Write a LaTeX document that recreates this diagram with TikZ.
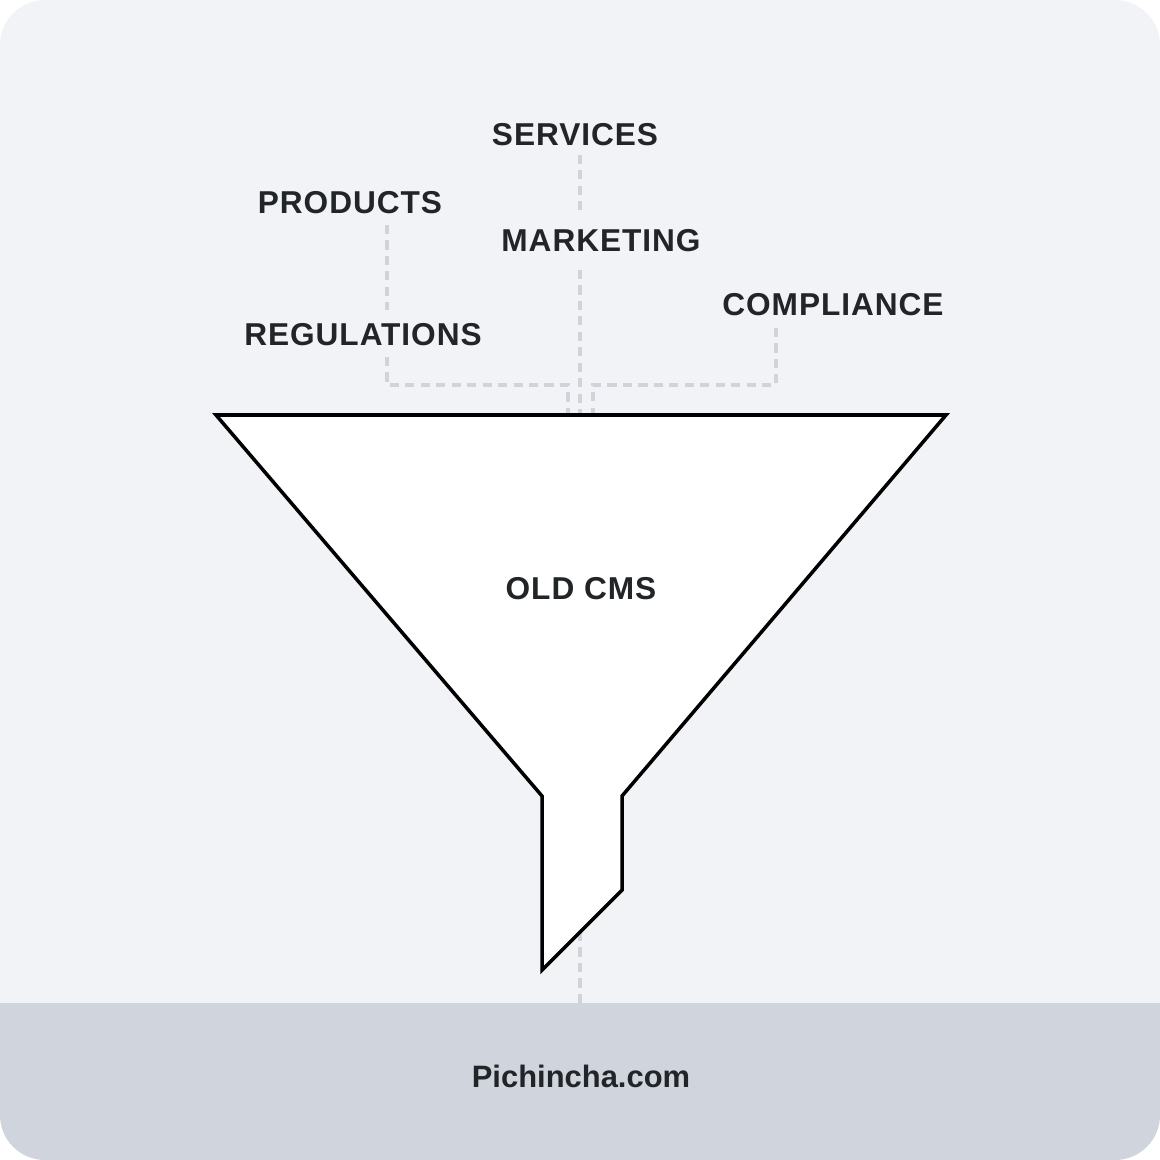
\documentclass[tikz,border=0pt]{standalone}
\usepackage{fontspec}
\setmainfont{Liberation Sans}
\newfontfamily\tagfont[LetterSpace=3]{Liberation Sans}
\usetikzlibrary{positioning,calc}
\definecolor{canvas}{HTML}{F2F3F7}
\definecolor{band}{HTML}{D0D4DC}
\definecolor{dashgray}{HTML}{D0D3DA}
\definecolor{ink}{HTML}{222527}

\begin{document}
\begin{tikzpicture}[
  x=0.1mm, y=-0.1mm,
  tag/.style={font=\tagfont\fontsize{9}{10}\selectfont\bfseries, text=ink, inner sep=0pt},
  brand/.style={font=\fontsize{8.8}{10}\selectfont\bfseries, text=ink, inner sep=0pt},
  link/.style={draw=dashgray, line width=1pt, dash pattern=on 2.6pt off 1.8pt},
  funnel/.style={draw=black, fill=white, line width=1pt, line join=miter}
]
% canvas and footer band
\fill[white] (0,0) rectangle (1160,1160);
\begin{scope}
  \clip[rounded corners=4.5mm] (0,0) rectangle (1160,1160);
  \fill[canvas] (0,0) rectangle (1160,1003);
  \fill[band] (0,1003) rectangle (1160,1160);
\end{scope}
\useasboundingbox (0,0) rectangle (1160,1160);

% labels
\node[tag] (services) at (575,135) {SERVICES};
\node[tag] (products) at (350,203) {PRODUCTS};
\node[tag] (marketing) at (601,241) {MARKETING};
\node[tag] (compliance) at (833,305) {COMPLIANCE};
\node[tag] (regulations) at (363,335) {REGULATIONS};

% junctions
\coordinate (trunkL) at (387,385);
\coordinate (trunkR) at (776,385);
\coordinate (mergeL) at (568,415);
\coordinate (mergeM) at (580,415);
\coordinate (mergeR) at (593,415);
\coordinate (spout) at (580,932);
\coordinate (base) at (580,1003);

% dashed feeds
\draw[link] ($(services.south -| mergeM)+(0,8)$) -- ($(marketing.north -| mergeM)+(0,-19)$);
\draw[link] ($(marketing.south -| mergeM)+(0,17)$) -- (mergeM);
\draw[link] ($(products.south -| trunkL)+(0,10)$) -- ($(regulations.north -| trunkL)+(0,-13)$);
\draw[link] ($(regulations.south -| trunkL)+(0,10)$) -- (trunkL) -| (mergeL);
\draw[link] ($(compliance.south -| trunkR)+(0,11)$) -- (trunkR) -| (mergeR);
\draw[link] (spout) -- (base);

% funnel
\draw[funnel] (216,415) -- (946,415) -- (622,796) -- (622,890)
  -- (542,970) -- (542,796) -- cycle;
\node[tag] (cms) at (581,589) {OLD CMS};

\node[brand] (site) at (581,1076) {Pichincha.com};
\end{tikzpicture}
\end{document}
